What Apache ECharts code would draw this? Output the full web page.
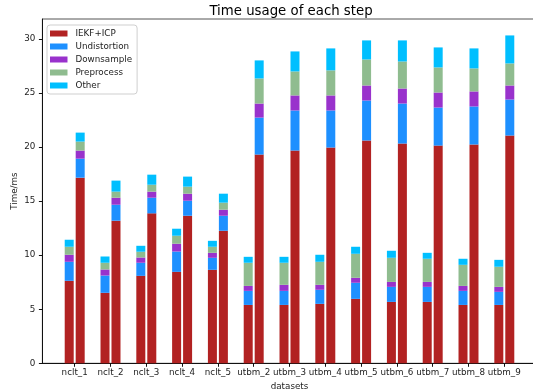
<!DOCTYPE html>
<html>
<head>
<meta charset="utf-8">
<script src="https://cdn.jsdelivr.net/npm/echarts@6/dist/echarts.min.js"></script>
<style>
html, body { margin: 0; padding: 0; background: #fff; }
#chart { width: 533px; height: 389px; }
</style>
</head>
<body>
<div id="chart"></div>
<script>
// Dataset names along the x axis
const datasets = ['nclt_1', 'nclt_2', 'nclt_3', 'nclt_4', 'nclt_5',
  'utbm_2', 'utbm_3', 'utbm_4', 'utbm_5', 'utbm_6', 'utbm_7', 'utbm_8', 'utbm_9'];

const stepNames = ['IEKF+ICP', 'Undistortion', 'Downsample', 'Preprocess', 'Other'];
const stepColors = ['#B22222', '#1E90FF', '#9932CC', '#8FBC8F', '#00BFFF'];

// Left bar of each pair (ms per step)
const iekfLeft   = [7.63, 6.52, 8.09, 8.46, 8.65, 5.40, 5.40, 5.50, 5.96, 5.68, 5.68, 5.40, 5.40];
const undistLeft = [1.76, 1.60, 1.21, 1.88, 1.11, 1.30, 1.30, 1.30, 1.49, 1.39, 1.39, 1.30, 1.21];
const downLeft   = [0.65, 0.56, 0.49, 0.72, 0.46, 0.46, 0.56, 0.46, 0.46, 0.46, 0.46, 0.46, 0.46];
const preLeft    = [0.74, 0.62, 0.53, 0.74, 0.56, 2.14, 2.04, 2.13, 2.22, 2.23, 2.14, 1.95, 1.86];
const otherLeft  = [0.65, 0.58, 0.55, 0.65, 0.55, 0.55, 0.55, 0.65, 0.65, 0.65, 0.55, 0.56, 0.64];

// Right bar of each pair (ms per step)
const iekfRight   = [17.17, 13.19, 13.87, 13.65, 12.26, 19.31, 19.68, 19.96, 20.61, 20.33, 20.14, 20.24, 21.07];
const undistRight = [1.76, 1.48, 1.45, 1.39, 1.39, 3.42, 3.71, 3.43, 3.70, 3.70, 3.52, 3.52, 3.33];
const downRight   = [0.75, 0.65, 0.56, 0.65, 0.56, 1.30, 1.39, 1.39, 1.39, 1.39, 1.39, 1.39, 1.30];
const preRight    = [0.83, 0.56, 0.64, 0.65, 0.65, 2.32, 2.22, 2.32, 2.41, 2.50, 2.32, 2.13, 2.04];
const otherRight  = [0.83, 1.02, 0.93, 0.93, 0.83, 1.67, 1.85, 2.03, 1.76, 1.95, 1.85, 1.85, 2.59];

const yTicks = [0, 5, 10, 15, 20, 25, 30];

const leftStack = [iekfLeft, undistLeft, downLeft, preLeft, otherLeft];
const rightStack = [iekfRight, undistRight, downRight, preRight, otherRight];

const FONT = 'DejaVu Sans';
const Y_MAX = 31.85;
const PLOT_TOP = 19;
const PLOT_H = 344.3;

function makeSeries(values, stackId, k) {
  return {
    name: stepNames[k],
    type: 'bar',
    xAxisIndex: 0,
    yAxisIndex: 0,
    stack: stackId,
    barWidth: 9,
    barGap: '22%',
    itemStyle: { color: stepColors[k] },
    emphasis: { disabled: true },
    data: values
  };
}

const series = [];
stepNames.forEach((_, k) => {
  series.push(makeSeries(leftStack[k], 'left', k));
  series.push(makeSeries(rightStack[k], 'right', k));
});

const chart = echarts.init(document.getElementById('chart'), null, { renderer: 'canvas' });
chart.setOption({
  animation: false,
  backgroundColor: '#fff',
  textStyle: { fontFamily: FONT },
  title: {
    text: 'Time usage of each step',
    left: 286,
    top: 2,
    padding: [3, 5, 5, 5],
    textAlign: 'center',
    textStyle: { fontFamily: FONT, fontSize: 13.3, fontWeight: 'normal', color: '#000' }
  },
  legend: {
    data: stepNames,
    orient: 'vertical',
    left: 47,
    top: 25,
    icon: 'rect',
    itemWidth: 17.5,
    itemHeight: 6,
    itemGap: 2,
    padding: [3, 5, 3, 3],
    backgroundColor: '#fff',
    borderColor: '#cfcfcf',
    borderWidth: 1,
    borderRadius: 3,
    selectedMode: false,
    textStyle: { fontFamily: FONT, fontSize: 8.75, lineHeight: 11, color: '#222', padding: [0, 0, 0, 3] }
  },
  grid: [
    // bar area: one band per dataset
    { left: 56.8, top: PLOT_TOP, width: 465.4, height: PLOT_H, outerBoundsMode: 'none', containLabel: false },
    // surrounding axes frame
    { left: 42.4, top: PLOT_TOP, width: 494.2, height: PLOT_H, outerBoundsMode: 'none', containLabel: false,
      show: true, borderColor: '#555', borderWidth: 1 }
  ],
  xAxis: [
    {
      gridIndex: 0,
      type: 'category',
      data: datasets,
      boundaryGap: true,
      name: 'datasets',
      nameLocation: 'middle',
      nameGap: 19,
      nameMoveOverlap: false,
      nameTextStyle: { fontFamily: FONT, fontSize: 8.75, color: '#222' },
      axisLine: { show: false },
      axisTick: { show: true, alignWithLabel: true, length: 3.5, lineStyle: { color: '#111' } },
      axisLabel: { interval: 0, margin: 5, fontFamily: FONT, fontSize: 8.75, color: '#222' },
      splitLine: { show: false }
    },
    {
      gridIndex: 1,
      type: 'value',
      min: 0,
      max: 1,
      axisLine: { show: true, onZero: false, lineStyle: { color: '#111', width: 1 } },
      axisTick: { show: false },
      axisLabel: { show: false },
      splitLine: { show: false }
    }
  ],
  yAxis: [
    {
      gridIndex: 0,
      type: 'value',
      min: 0,
      max: Y_MAX,
      show: false,
      splitLine: { show: false }
    },
    {
      gridIndex: 1,
      type: 'value',
      min: 0,
      max: Y_MAX,
      name: 'Time/ms',
      nameLocation: 'middle',
      nameGap: 23,
      nameMoveOverlap: false,
      nameRotate: 90,
      nameTextStyle: { fontFamily: FONT, fontSize: 8.75, color: '#222' },
      axisLine: { show: true, onZero: false, lineStyle: { color: '#111', width: 1 } },
      axisTick: { show: true, length: 3.5, customValues: yTicks, lineStyle: { color: '#111' } },
      axisLabel: { customValues: yTicks, margin: 7, fontFamily: FONT, fontSize: 8.75, color: '#222' },
      splitLine: { show: false }
    }
  ],
  series: series
});
</script>
</body>
</html>
